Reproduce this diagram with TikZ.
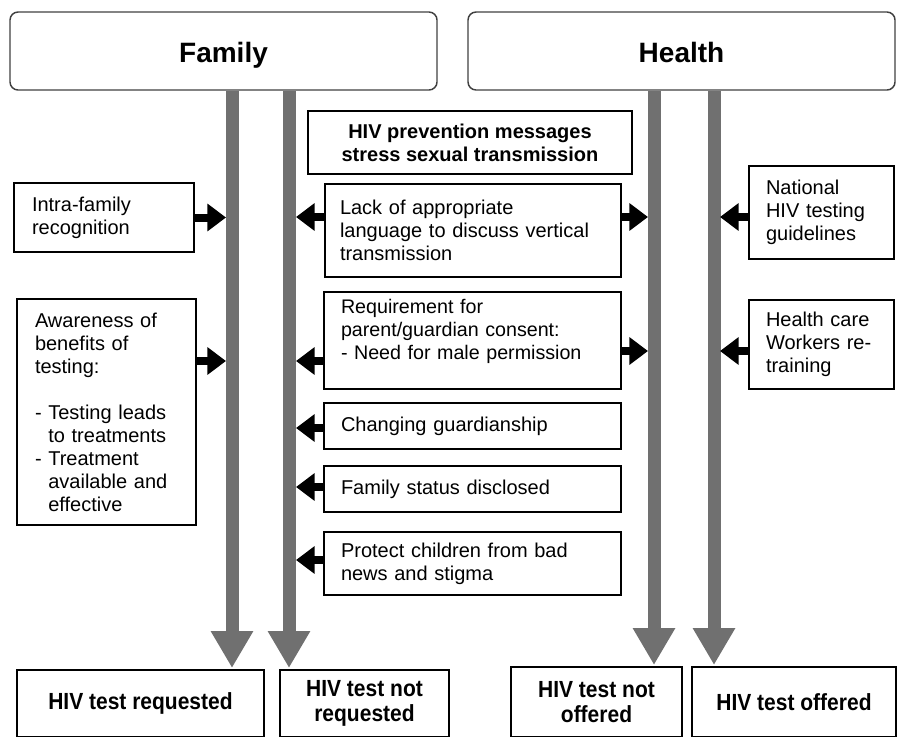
\documentclass[tikz,border=0pt]{standalone}
\usepackage{fontspec}
\setmainfont{Liberation Sans}
\newfontfamily\narrowfont[FakeStretch=0.9]{Liberation Sans}
\usetikzlibrary{arrows.meta,calc}
\definecolor{bargray}{RGB}{112,112,112}
\definecolor{framegray}{RGB}{64,64,64}
\begin{document}
\begin{tikzpicture}[x=0.75pt,y=-0.75pt,
  title/.style={draw=framegray, line width=1.1pt, rounded corners=6pt, inner sep=0pt,
    minimum width=320.25pt, minimum height=58.5pt, text height=21pt, text depth=4.5pt,
    font=\fontsize{21}{25}\selectfont\bfseries},
  box/.style={draw=black, line width=0.9pt, inner sep=0pt, font=\fontsize{15}{17.25}\selectfont, align=left},
  midbox/.style={box, minimum width=222.75pt, text width=197.25pt},
  sidebox/.style={box, minimum width=108.75pt, text width=83.25pt},
  outcome/.style={draw=black, line width=0.9pt, inner sep=0pt, align=center, font=\narrowfont\bfseries\fontsize{17.5}{19}\selectfont},
  bar/.style={draw=bargray, line width=9.75pt, -{Triangle[length=27.75pt,width=30pt]}},
  push/.style={draw=black, line width=6pt, -{Triangle[length=14pt,width=20pt]}},
]
\useasboundingbox (0,0) rectangle (898,736);
\clip (0,0) rectangle (898,736);

% titles
\node[title] (fam) at (223.5,51) {Family};
\node[title] (hea) at (681.5,51) {Health};

% left boxes
\node[box, minimum width=135pt, minimum height=51.75pt, text width=108pt] (intra) at (104,217.5) {Intra-family\\ recognition};
\node[box, minimum width=134.25pt, minimum height=169.5pt, text width=107.25pt] (aware) at (106.5,412) {Awareness of\\ benefits of\\ testing:\\[17.25pt]
-~Testing leads\\ \phantom{-~}to treatments\\ -~Treatment\\ \phantom{-~}available and\\ \phantom{-~}effective};

% middle boxes
\node[box, minimum width=243pt, minimum height=47.25pt, align=center, font=\fontsize{15}{17.25}\selectfont\bfseries] (prev) at (470,142.5) {HIV prevention messages\\ stress sexual transmission};
\node[box, minimum width=222pt, minimum height=69.75pt, text width=199.5pt] (lack) at (473,230.5) {Lack of appropriate\\ language to discuss vertical\\ transmission};
\node[midbox, minimum height=72.75pt, font=\fontsize{14.75}{17.25}\selectfont] (req) at (472.5,340.5) {Requirement for\\ parent/guardian consent:\\ -~Need for male permission\\ \mbox{}};
\node[midbox, minimum height=34.5pt] (chg) at (472.5,426) {Changing guardianship};
\node[midbox, minimum height=34.5pt] (fstat) at (472.5,489) {Family status disclosed};
\node[midbox, minimum height=47.25pt] (prot) at (472.5,563.5) {Protect children from bad\\ news and stigma};

% right boxes
\node[sidebox, minimum height=69.75pt] (nat) at (821.5,212.5) {National\\ HIV testing\\ guidelines};
\node[sidebox, minimum height=66.75pt] (hcw) at (821.5,344.5) {Health care\\ Workers re-\\ training};

% outcomes
\node[outcome, minimum width=185.25pt, minimum height=50.25pt] (rq) at (140.5,703.5) {HIV test requested};
\node[outcome, minimum width=126.75pt, minimum height=50.25pt] (nrq) at (364.5,703.5) {HIV test not\\ requested};
\node[outcome, minimum width=128.25pt, minimum height=52.5pt] (nof) at (596.5,702) {HIV test not\\ offered};
\node[outcome, minimum width=153pt, minimum height=52.5pt] (of) at (794,702) {HIV test offered};

% bar tips and edges
\coordinate (b1) at (232,668);
\coordinate (b2) at (289,668);
\coordinate (b3) at (654,665);
\coordinate (b4) at (714,665);
\coordinate (b1e) at (226,0);
\coordinate (b2e) at (296,0);
\coordinate (b3e) at (648,0);
\coordinate (b4e) at (720,0);

\draw[bar] (fam.south -| b1) -- (b1);
\draw[bar] (fam.south -| b2) -- (b2);
\draw[bar] (hea.south -| b3) -- (b3);
\draw[bar] (hea.south -| b4) -- (b4);

% black arrows
\path ($(lack.west)+(0,-13.5)$) coordinate (lw)
      ($(lack.east)+(0,-13.5)$) coordinate (le)
      ($(nat.west)+(0,4.5)$) coordinate (nw)
      ($(aware.east)+(0,-51)$) coordinate (ae)
      ($(req.west)+(0,20.5)$) coordinate (rw)
      ($(req.east)+(0,10.5)$) coordinate (re)
      ($(hcw.west)+(0,6.5)$) coordinate (hw)
      ($(chg.west)+(0,2)$) coordinate (cw)
      ($(fstat.west)+(0,-2)$) coordinate (fw)
      ($(prot.west)+(0,-3.5)$) coordinate (pw);

\draw[push] (intra.east) -- (intra.east -| b1e);
\draw[push] (lw) -- (lw -| b2e);
\draw[push] (le) -- (le -| b3e);
\draw[push] (nw) -- (nw -| b4e);
\draw[push] (ae) -- (ae -| b1e);
\draw[push] (rw) -- (rw -| b2e);
\draw[push] (re) -- (re -| b3e);
\draw[push] (hw) -- (hw -| b4e);
\draw[push] (cw) -- (cw -| b2e);
\draw[push] (fw) -- (fw -| b2e);
\draw[push] (pw) -- (pw -| b2e);
\end{tikzpicture}
\end{document}
